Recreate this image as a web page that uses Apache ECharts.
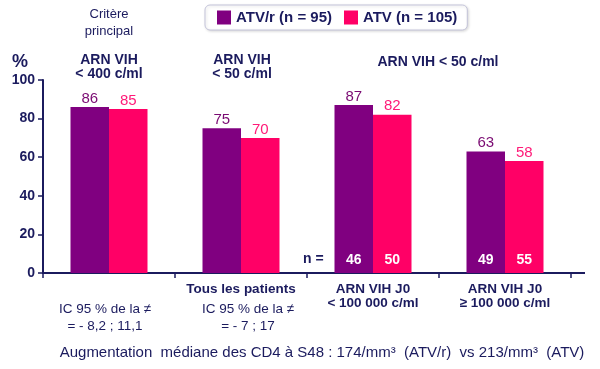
<!DOCTYPE html>
<html><head><meta charset="utf-8">
<script src="https://cdn.jsdelivr.net/npm/echarts@6/dist/echarts.min.js"></script>
<style>html,body{margin:0;padding:0;background:#fff}#c{width:600px;height:369px}</style>
</head><body><div id="c"></div>
<script>
const categories = ['', 'Tous les patients', 'ARN VIH J0\n< 100 000 c/ml', 'ARN VIH J0\n≥ 100 000 c/ml'];
const seriesNames = ['ATV/r (n = 95)', 'ATV (n = 105)'];
const atvr = [86, 75, 87, 63];
const atv = [85, 70, 82, 58];
const nAtvr = ['', '', 46, 49];
const nAtv = ['', '', 50, 55];
const yTicks = [0, 20, 40, 60, 80, 100];

const NAVY = '#1b1b5e', PURPLE = '#800080', PINK = '#ff0066';
const FONT = 'Liberation Sans, Arial, sans-serif';
const chart = echarts.init(document.getElementById('c'));

function barSeries(name, data, color, labelColor) {
  return {
    name, type: 'bar', data, barWidth: 38.5, barGap: 0, xAxisIndex: 0,
    itemStyle: { color },
    label: { show: true, position: 'top', distance: 1, color: labelColor, fontSize: 15, fontFamily: FONT }
  };
}
function nSeries(data, nVals) {
  return {
    type: 'bar', data, barWidth: 38.5, barGap: 0, xAxisIndex: 1, silent: true,
    itemStyle: { color: 'rgba(0,0,0,0)' },
    label: { show: true, position: 'insideBottom', distance: 6, color: '#fff', fontSize: 14, fontWeight: 'bold', fontFamily: FONT,
      formatter: p => nVals[p.dataIndex] === '' ? '' : String(nVals[p.dataIndex]) }
  };
}

chart.setOption({
  animation: false,
  textStyle: { fontFamily: FONT },
  grid: { left: 43, top: 80, width: 528, height: 193 },
  legend: {
    data: seriesNames, left: 205, top: 5, width: 264, itemWidth: 14, itemHeight: 14, itemGap: 12,
    padding: [5, 10, 5, 12], borderColor: '#c4c4da', borderWidth: 1, borderRadius: 5,
    shadowColor: 'rgba(0,0,0,0.15)', shadowBlur: 3, shadowOffsetX: 1, shadowOffsetY: 1, backgroundColor: '#fff',
    textStyle: { color: NAVY, fontSize: 15, fontWeight: 'bold', fontFamily: FONT },
    icon: 'rect'
  },
  xAxis: [{
    type: 'category', data: categories,
    axisLine: { lineStyle: { color: NAVY, width: 2 } },
    axisTick: { show: true, length: 5, lineStyle: { color: NAVY, width: 1.5 } },
    axisLabel: { color: NAVY, fontSize: 13.5, fontWeight: 'bold', margin: 9, lineHeight: 14, interval: 0 }
  }, {
    type: 'category', data: categories, show: false
  }],
  yAxis: {
    type: 'value', min: 0, max: 100, interval: 20,
    axisLine: { show: true, lineStyle: { color: NAVY, width: 2 } },
    axisTick: { show: true, length: 5, lineStyle: { color: NAVY, width: 1.5 } },
    splitLine: { show: false },
    axisLabel: { color: NAVY, fontSize: 14, fontWeight: 'bold', margin: 8,
      formatter: v => yTicks.includes(v) ? String(v) : '' }
  },
  series: [
    barSeries(seriesNames[0], atvr, PURPLE, '#7a0a72'),
    barSeries(seriesNames[1], atv, PINK, '#ff1a78'),
    nSeries(atvr, nAtvr),
    nSeries(atv, nAtv)
  ],
  graphic: [
    { type: 'line', shape: { x1: 571, y1: 273, x2: 585, y2: 273 }, style: { stroke: NAVY, lineWidth: 2 } },
    { type: 'text', left: 12, top: 53, style: { text: '%', fill: NAVY, font: 'bold 18px ' + FONT } },
    { type: 'text', x: 109, y: 6, style: { text: 'Critère\nprincipal', fill: NAVY, font: '13px ' + FONT, textAlign: 'center', lineHeight: 17 } },
    { type: 'text', x: 109, y: 53, style: { text: 'ARN VIH\n< 400 c/ml', fill: NAVY, font: 'bold 14px ' + FONT, textAlign: 'center', lineHeight: 14 } },
    { type: 'text', x: 242, y: 53, style: { text: 'ARN VIH\n< 50 c/ml', fill: NAVY, font: 'bold 14px ' + FONT, textAlign: 'center', lineHeight: 14 } },
    { type: 'text', x: 438, y: 55, style: { text: 'ARN VIH < 50 c/ml', fill: NAVY, font: 'bold 14px ' + FONT, textAlign: 'center' } },
    { type: 'text', x: 303, y: 252, style: { text: 'n =', fill: NAVY, font: 'bold 14px ' + FONT } },
    { type: 'text', x: 105, y: 301, style: { text: 'IC 95 % de la ≠\n= - 8,2 ; 11,1', fill: NAVY, font: '13.5px ' + FONT, textAlign: 'center', lineHeight: 17 } },
    { type: 'text', x: 248, y: 301, style: { text: 'IC 95 % de la ≠\n= - 7 ; 17', fill: NAVY, font: '13.5px ' + FONT, textAlign: 'center', lineHeight: 17 } },
    { type: 'text', x: 322, y: 345, style: { text: 'Augmentation  médiane des CD4 à S48 : 174/mm³  (ATV/r)  vs 213/mm³  (ATV)', fill: NAVY, font: '15px ' + FONT, textAlign: 'center' } }
  ]
});
</script></body></html>
